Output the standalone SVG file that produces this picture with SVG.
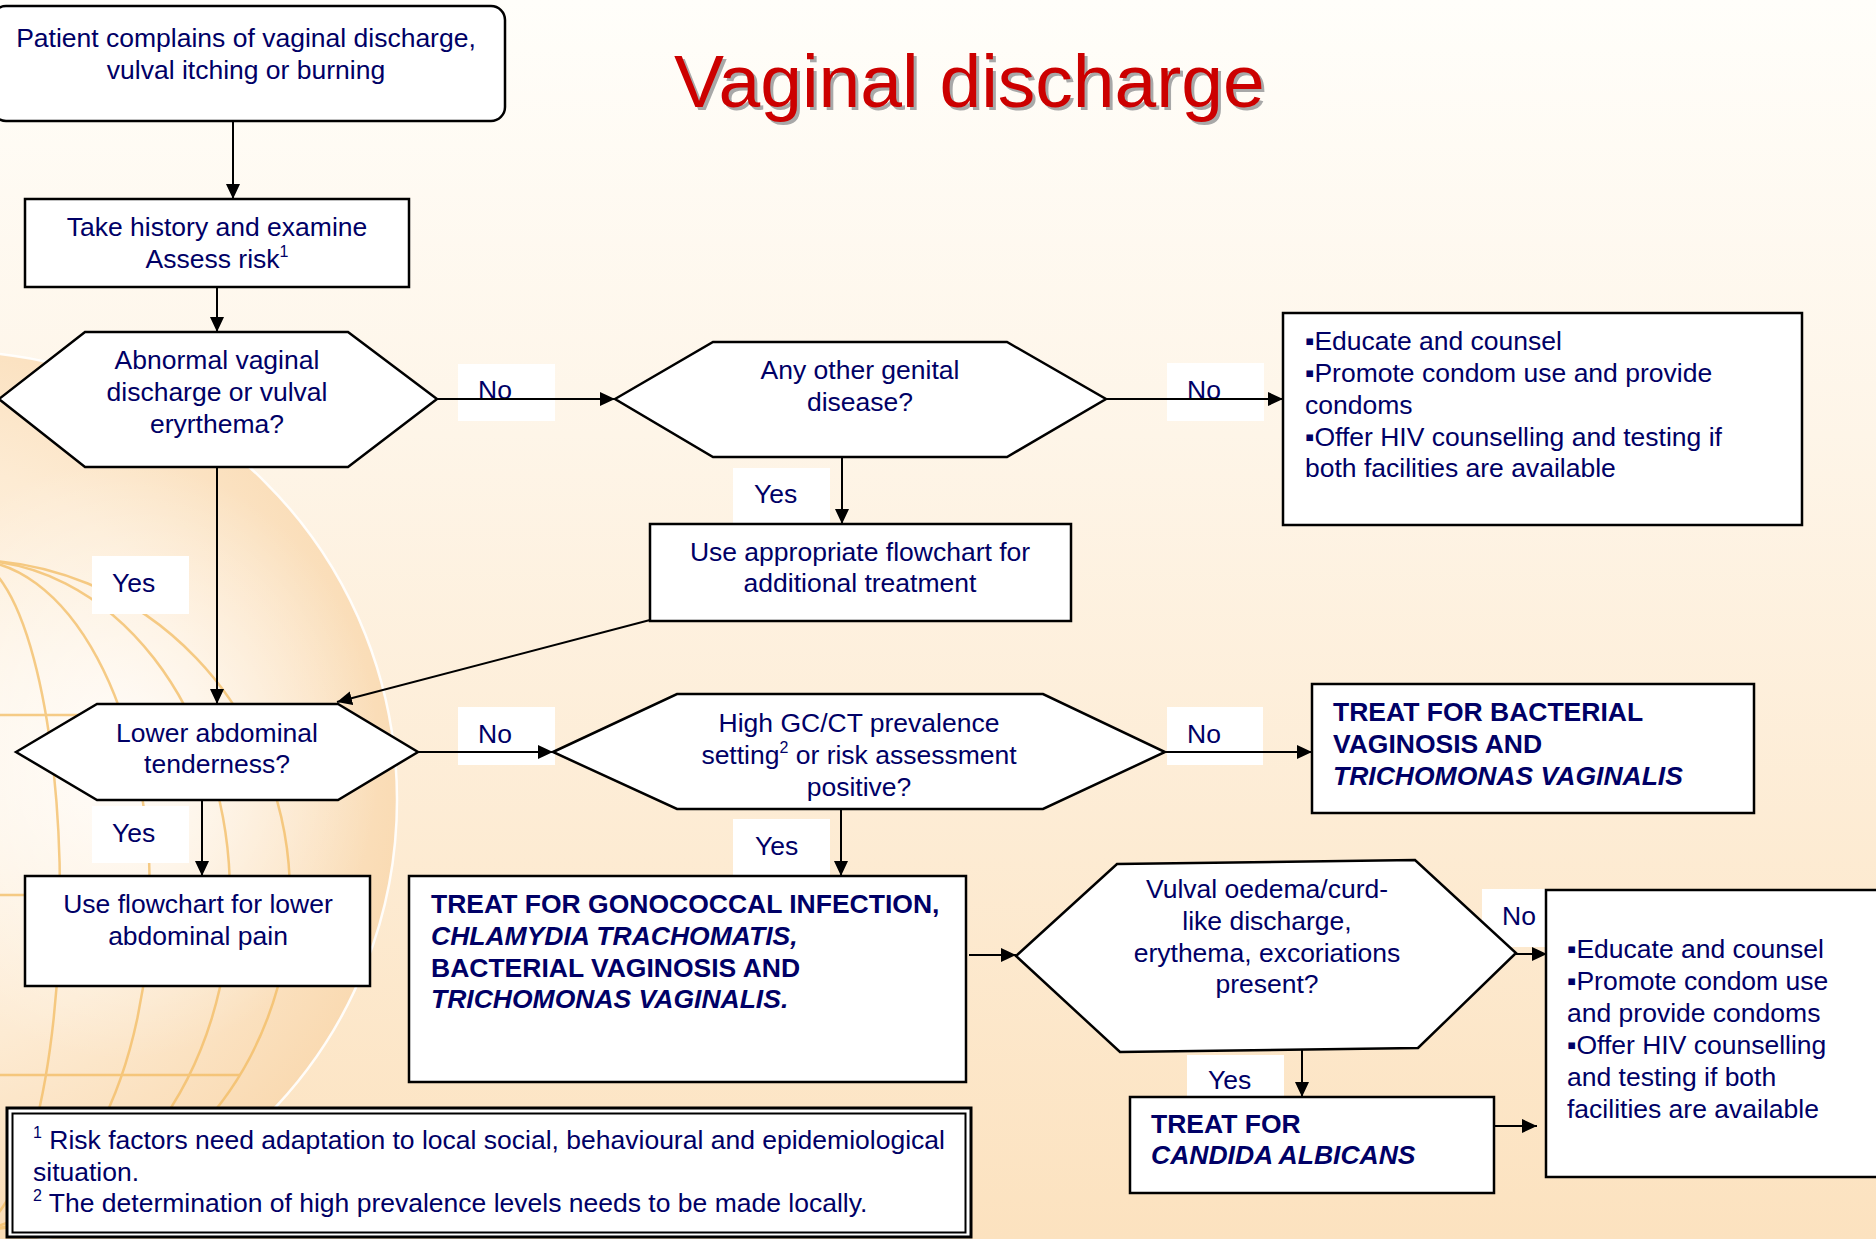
<svg xmlns="http://www.w3.org/2000/svg" width="1876" height="1239" viewBox="0 0 1876 1239">
  <defs>
    <linearGradient id="bg" x1="0" y1="0" x2="0" y2="1">
      <stop offset="0" stop-color="#FFFEFA"/>
      <stop offset="0.35" stop-color="#FEF5E8"/>
      <stop offset="1" stop-color="#FCE2BF"/>
    </linearGradient>
    <radialGradient id="disc" cx="0.45" cy="0.45" r="0.6">
      <stop offset="0" stop-color="#FFF8EE"/>
      <stop offset="0.55" stop-color="#FDEBD3"/>
      <stop offset="1" stop-color="#F9D8AE"/>
    </radialGradient>
    <radialGradient id="glow" cx="0.5" cy="0.5" r="0.5">
      <stop offset="0" stop-color="#FFFFFF" stop-opacity="0.85"/>
      <stop offset="1" stop-color="#FFFFFF" stop-opacity="0"/>
    </radialGradient>
    <marker id="ah" markerUnits="userSpaceOnUse" markerWidth="16" markerHeight="14" refX="15" refY="7" orient="auto">
      <path d="M0,0 L15,7 L0,14 Z" fill="#000"/>
    </marker>
    <style>
      .node { fill:#FFFFFF; stroke:#000000; stroke-width:2.5; }
      .t { font-family:"Liberation Sans", Arial, "DejaVu Sans", sans-serif; font-size:26.5px; fill:#000066; }
      .c { text-anchor:middle; }
      .b { font-weight:bold; }
      .i { font-style:italic; }
      .lbl { fill:#FFFFFF; }
      .edge { stroke:#000000; stroke-width:2; fill:none; marker-end:url(#ah); }
      .globe { fill:none; stroke:#F3BC62; stroke-width:2.5; opacity:0.75; }
      .title { font-family:"Liberation Sans", Arial, sans-serif; font-size:75px; }
    </style>
  </defs>

  <!-- slide background with the globe emblem -->
  <rect x="0" y="0" width="1876" height="1239" fill="url(#bg)"/>
  <circle cx="-52" cy="800" r="449" fill="url(#disc)" stroke="#FFFFFF" stroke-width="2.5" stroke-opacity="0.9"/>
  <ellipse cx="120" cy="760" rx="260" ry="300" fill="url(#glow)"/>
  <g class="globe">
    <ellipse cx="-30" cy="895" rx="90" ry="335"/>
    <ellipse cx="-30" cy="895" rx="180" ry="335"/>
    <ellipse cx="-30" cy="895" rx="260" ry="335"/>
    <ellipse cx="-30" cy="895" rx="320" ry="335"/>
    <line x1="0" y1="715" x2="240" y2="715"/>
    <line x1="0" y1="895" x2="290" y2="895"/>
    <line x1="0" y1="1075" x2="240" y2="1075"/>
  </g>

  <!-- title -->
  <text class="title" x="677" y="110" fill="#A8A8A8">Vaginal discharge</text>
  <text class="title" x="674" y="107" fill="#CC0000">Vaginal discharge</text>

  <!-- connectors and their labels -->
  <g id="connectors">
    <g id="labels">
      <rect class="lbl" x="458" y="364" width="97" height="57"/>
      <text class="t" x="478" y="399">No</text>
      <rect class="lbl" x="1167" y="363" width="97" height="58"/>
      <text class="t" x="1187" y="399">No</text>
      <rect class="lbl" x="733" y="468" width="97" height="56"/>
      <text class="t" x="754" y="503">Yes</text>
      <rect class="lbl" x="92" y="556" width="97" height="58"/>
      <text class="t" x="112" y="592">Yes</text>
      <rect class="lbl" x="458" y="707" width="97" height="58"/>
      <text class="t" x="478" y="743">No</text>
      <rect class="lbl" x="1167" y="707" width="96" height="58"/>
      <text class="t" x="1187" y="743">No</text>
      <rect class="lbl" x="92" y="806" width="97" height="57"/>
      <text class="t" x="112" y="842">Yes</text>
      <rect class="lbl" x="733" y="819" width="97" height="57"/>
      <text class="t" x="755" y="855">Yes</text>
      <rect class="lbl" x="1482" y="889" width="64" height="58"/>
      <text class="t" x="1502" y="925">No</text>
      <rect class="lbl" x="1187" y="1055" width="97" height="42"/>
      <text class="t" x="1208" y="1089">Yes</text>
    </g>
    <line class="edge" x1="233" y1="121" x2="233" y2="199"/>
    <line class="edge" x1="217" y1="288" x2="217" y2="332"/>
    <line class="edge" x1="437" y1="399" x2="615" y2="399"/>
    <line class="edge" x1="1106" y1="399" x2="1283" y2="399"/>
    <line class="edge" x1="842" y1="457" x2="842" y2="524"/>
    <line class="edge" x1="650" y1="620" x2="337" y2="702"/>
    <line class="edge" x1="217" y1="467" x2="217" y2="704"/>
    <line class="edge" x1="418" y1="752" x2="553" y2="752"/>
    <line class="edge" x1="202" y1="800" x2="202" y2="876"/>
    <line class="edge" x1="1165" y1="752" x2="1312" y2="752"/>
    <line class="edge" x1="841" y1="809" x2="841" y2="876"/>
    <line class="edge" x1="969" y1="955" x2="1016" y2="955"/>
    <line class="edge" x1="1516" y1="954" x2="1547" y2="954"/>
    <line class="edge" x1="1302" y1="1050" x2="1302" y2="1097"/>
    <line class="edge" x1="1490" y1="1126" x2="1537" y2="1126"/>
  </g>

  <g id="start">
    <rect class="node" x="-8" y="6" width="513" height="115" rx="14" ry="14" stroke-width="2"/>
    <text class="t c" x="246" y="47">Patient complains of vaginal discharge,</text>
    <text class="t c" x="246" y="79">vulval itching or burning</text>
  </g>

  <g id="history">
    <rect class="node" x="25" y="199" width="384" height="88"/>
    <text class="t c" x="217" y="236">Take history and examine</text>
    <text class="t c" x="217" y="268">Assess risk<tspan font-size="16" dy="-11">1</tspan></text>
  </g>

  <g id="q-abnormal">
    <polygon class="node" points="-1,399 85,332 348,332 437,399 348,467 85,467"/>
    <text class="t c" x="217" y="369">Abnormal vaginal</text>
    <text class="t c" x="217" y="401">discharge or vulval</text>
    <text class="t c" x="217" y="433">eryrthema?</text>
  </g>

  <g id="q-other">
    <polygon class="node" points="615,399 713,342 1007,342 1106,399 1007,457 713,457"/>
    <text class="t c" x="860" y="379">Any other genital</text>
    <text class="t c" x="860" y="411">disease?</text>
  </g>

  <g id="counsel-1">
    <rect class="node" x="1283" y="313" width="519" height="212"/>
    <text class="t" x="1305" y="350">▪Educate and counsel</text>
    <text class="t" x="1305" y="382">▪Promote condom use and provide</text>
    <text class="t" x="1305" y="414">condoms</text>
    <text class="t" x="1305" y="446">▪Offer HIV counselling and testing if</text>
    <text class="t" x="1305" y="477">both facilities are available</text>
  </g>

  <g id="other-flowchart">
    <rect class="node" x="650" y="524" width="421" height="97"/>
    <text class="t c" x="860" y="561">Use appropriate flowchart for</text>
    <text class="t c" x="860" y="592">additional treatment</text>
  </g>

  <g id="q-lower-abdominal">
    <polygon class="node" points="16,752 97,704 338,704 418,752 338,800 97,800"/>
    <text class="t c" x="217" y="742">Lower abdominal</text>
    <text class="t c" x="217" y="773">tenderness?</text>
  </g>

  <g id="lap-flowchart">
    <rect class="node" x="25" y="876" width="345" height="110"/>
    <text class="t c" x="198" y="913">Use flowchart for lower</text>
    <text class="t c" x="198" y="945">abdominal pain</text>
  </g>

  <g id="q-prevalence">
    <polygon class="node" points="553,752 677,694 1043,694 1165,752 1043,809 677,809"/>
    <text class="t c" x="859" y="732">High GC/CT prevalence</text>
    <text class="t c" x="859" y="764">setting<tspan font-size="16" dy="-11">2</tspan><tspan dy="11"> or risk assessment</tspan></text>
    <text class="t c" x="859" y="796">positive?</text>
  </g>

  <g id="treat-bv-tv">
    <rect class="node" x="1312" y="684" width="442" height="129"/>
    <text class="t b" x="1333" y="721">TREAT FOR BACTERIAL</text>
    <text class="t b" x="1333" y="753">VAGINOSIS AND</text>
    <text class="t b i" x="1333" y="785">TRICHOMONAS VAGINALIS</text>
  </g>

  <g id="treat-gc-ct">
    <rect class="node" x="409" y="876" width="557" height="206"/>
    <text class="t b" x="431" y="913">TREAT FOR GONOCOCCAL INFECTION,</text>
    <text class="t b i" x="431" y="945">CHLAMYDIA TRACHOMATIS,</text>
    <text class="t b" x="431" y="977">BACTERIAL VAGINOSIS AND</text>
    <text class="t b i" x="431" y="1008">TRICHOMONAS VAGINALIS.</text>
  </g>

  <g id="q-vulval">
    <polygon class="node" points="1016,956 1117,864 1415,860 1516,953 1418,1048 1120,1052"/>
    <text class="t c" x="1267" y="898">Vulval oedema/curd-</text>
    <text class="t c" x="1267" y="930">like discharge,</text>
    <text class="t c" x="1267" y="962">erythema, excoriations</text>
    <text class="t c" x="1267" y="993">present?</text>
  </g>

  <g id="counsel-2">
    <rect class="node" x="1546" y="890" width="345" height="287"/>
    <text class="t" x="1567" y="958">▪Educate and counsel</text>
    <text class="t" x="1567" y="990">▪Promote condom use</text>
    <text class="t" x="1567" y="1022">and provide condoms</text>
    <text class="t" x="1567" y="1054">▪Offer HIV counselling</text>
    <text class="t" x="1567" y="1086">and testing if both</text>
    <text class="t" x="1567" y="1118">facilities are available</text>
  </g>

  <g id="treat-candida">
    <rect class="node" x="1130" y="1097" width="364" height="96"/>
    <text class="t b" x="1151" y="1133">TREAT FOR</text>
    <text class="t b i" x="1151" y="1164">CANDIDA ALBICANS</text>
  </g>

  <g id="footnotes">
    <rect x="7" y="1108" width="964" height="129" fill="#FFFFFF" stroke="#000" stroke-width="3"/>
    <rect x="12.5" y="1113.5" width="953" height="119" fill="none" stroke="#000" stroke-width="2"/>
    <text class="t" x="33" y="1149"><tspan font-size="16" dy="-11">1</tspan><tspan dy="11"> Risk factors need adaptation to local social, behavioural and epidemiological</tspan></text>
    <text class="t" x="33" y="1181">situation.</text>
    <text class="t" x="33" y="1212"><tspan font-size="16" dy="-11">2</tspan><tspan dy="11"> The determination of high prevalence levels needs to be made locally.</tspan></text>
  </g>
</svg>
